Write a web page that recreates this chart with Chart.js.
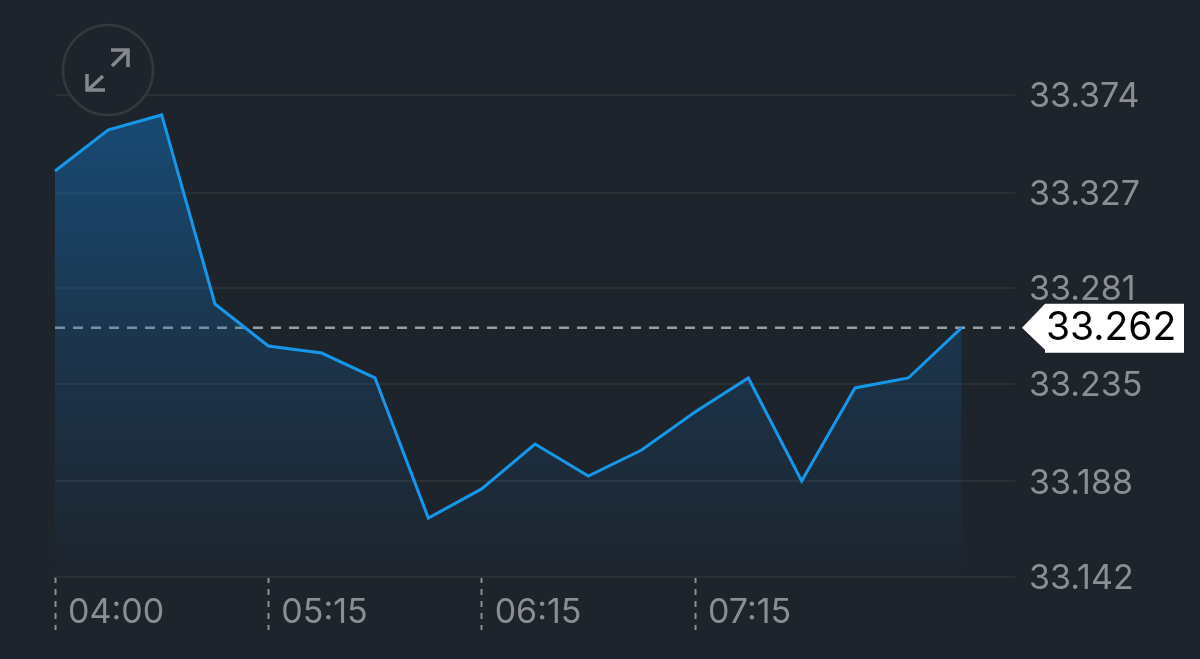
<!DOCTYPE html>
<html><head><meta charset="utf-8">
<style>html,body{margin:0;padding:0;background:#1e242c;overflow:hidden}canvas{display:block}</style>
<script src="https://cdn.jsdelivr.net/npm/chart.js@4"></script>
</head><body><canvas id="c" width="1200" height="659" style="width:1200px;height:659px"></canvas>
<script>
const timeLabels = ['04:00','','','','05:15','','','','06:15','','','','07:15','','','','','',''];
const priceValues = [33.3374,33.3572,33.3644,33.2734,33.2532,33.2498,33.2378,33.1704,33.1844,33.206,33.1906,33.2031,33.2214,33.2378,33.1882,33.233,33.2378,33.262,null];
const yTicks = [33.374,33.327,33.281,33.235,33.188,33.142];
const currentValue = 33.262;
const currentLine = timeLabels.map(() => currentValue);

const BG='#1e242c', GRID='#2b3037', TXT='#8b8e92', LINE='#1697ea';

const overlay = {
  id:'overlay',
  afterDraw(ch){
    const c=ch.ctx, y=ch.scales.y.getPixelForValue(currentValue);
    c.save();
    c.fillStyle='#fff';
    c.beginPath();c.moveTo(1022,y);c.lineTo(1045,y-24);c.lineTo(1184,y-24);c.lineTo(1184,y+25);c.lineTo(1045,y+25);c.lineTo(1045,y+22);c.closePath();c.fill();
    c.fillStyle='#000';c.font='39px Inter';c.textAlign='left';c.textBaseline='middle';
    c.fillText(currentValue.toFixed(3),1046,y+1);
    c.strokeStyle='#35393f';c.lineWidth=2.5;
    c.beginPath();c.arc(108,70,45,0,Math.PI*2);c.fillStyle=BG;c.fill();c.stroke();
    c.strokeStyle='#85888c';c.lineWidth=3.5;
    c.beginPath();c.moveTo(112,66);c.lineTo(128,50);c.moveTo(111,50);c.lineTo(128,50);c.lineTo(128,67);
    c.moveTo(103,76);c.lineTo(88,90);c.moveTo(87,74);c.lineTo(87,90);c.lineTo(105,90);c.stroke();
    c.restore();
  }
};

new Chart(document.getElementById('c'),{
  type:'line',
  plugins:[overlay],
  data:{labels:timeLabels,datasets:[
    {data:priceValues,borderColor:LINE,borderWidth:3,pointRadius:0,tension:0,spanGaps:false,fill:'start',
     backgroundColor(ctx){
       const a=ctx.chart.chartArea; if(!a) return 'transparent';
       const g=ctx.chart.ctx.createLinearGradient(0,a.top,0,a.bottom);
       g.addColorStop(0,'rgba(20,105,175,0.58)');g.addColorStop(0.6,'rgba(20,105,175,0.2)');g.addColorStop(1,'rgba(20,105,175,0.02)');return g;
     }},
    {data:currentLine,borderColor:'#9a9da1',borderWidth:2.5,borderDash:[10,8],pointRadius:0,tension:0,fill:false}
  ]},
  options:{
    responsive:false,animation:false,devicePixelRatio:1,
    layout:{padding:{left:55,top:95,right:0,bottom:0}},
    plugins:{legend:{display:false},tooltip:{enabled:false}},
    scales:{
      x:{type:'category',offset:false,
        afterFit(s){s.height=82;s.paddingLeft=0;s.paddingRight=0;},
        border:{display:false},
        grid:{drawOnChartArea:false,drawTicks:true,tickLength:53,
          tickColor(ctx){return timeLabels[ctx.index]?'#8b8e92':'transparent';},
          tickBorderDash:[6,6],tickWidth:2},
        ticks:{autoSkip:false,maxRotation:0,minRotation:0,align:'start',labelOffset:13,padding:-38,color:TXT,
          font:{family:'Inter',size:34},callback(v,i){return timeLabels[i];}}
      },
      y:{position:'right',min:33.142,max:33.374,
        afterFit(s){s.width=185;s.paddingTop=0;s.paddingBottom=0;},
        afterBuildTicks(s){s.ticks=yTicks.map(v=>({value:v}));},
        border:{display:false},
        grid:{color:GRID,lineWidth:2,drawTicks:false},
        ticks:{padding:14,labelOffset:2,color:TXT,font:{family:'Inter',size:34},callback(v){return v.toFixed(3);}}
      }
    }
  }
});
</script></body></html>
